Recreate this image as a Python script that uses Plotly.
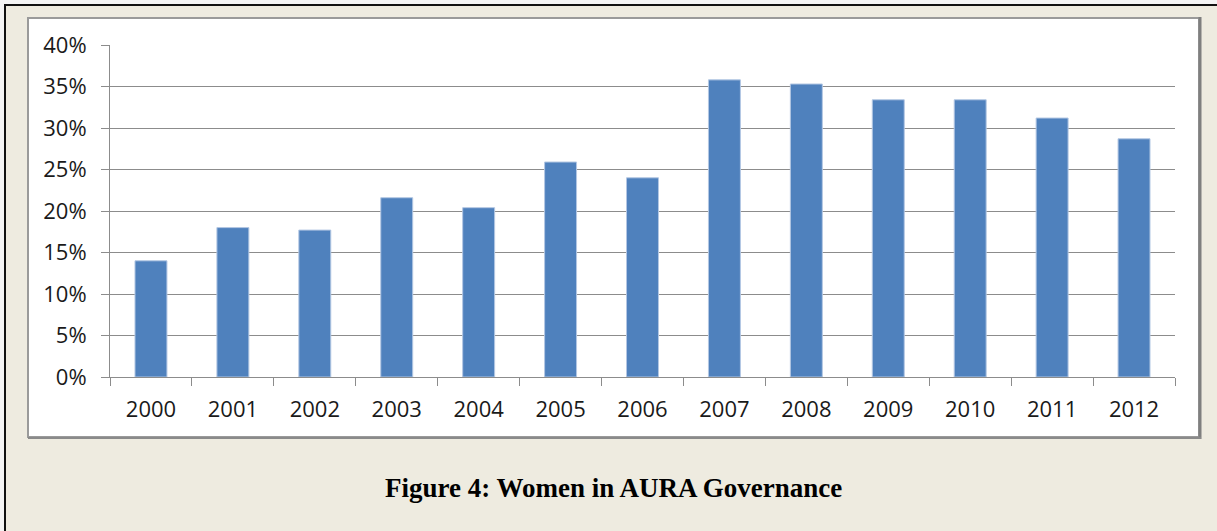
import plotly.graph_objects as go

years = ["2000", "2001", "2002", "2003", "2004", "2005", "2006",
         "2007", "2008", "2009", "2010", "2011", "2012"]
women_share = [0.140, 0.180, 0.177, 0.216, 0.204, 0.259, 0.240,
               0.358, 0.353, 0.334, 0.334, 0.312, 0.287]
y_ticks = [0.0, 0.05, 0.10, 0.15, 0.20, 0.25, 0.30, 0.35, 0.40]
caption = "Figure 4: Women in AURA Governance"

W, H = 1217, 531
PL, PR, PT, PB = 110, 1175, 45, 377  # plot area in pixels


def px(x):
    return (x - PL) / (PR - PL)


def py(y):
    return (PB - y) / (PB - PT)


fig = go.Figure()
fig.add_trace(go.Bar(
    x=years, y=women_share,
    marker=dict(color="#4F81BD", line=dict(color="#B3C7E3", width=1)),
))

shapes = [
    # light strip outside the black frame
    dict(type="rect", xref="paper", yref="paper",
         x0=px(0), x1=px(1300), y0=py(0), y1=py(600),
         line=dict(width=0), fillcolor="#F4F4F4", layer="below"),
    # outer black frame (only top/left visible)
    dict(type="rect", xref="paper", yref="paper",
         x0=px(5), x1=px(1260), y0=py(5), y1=py(560),
         line=dict(color="#111111", width=2), fillcolor="#EEEBE0", layer="below"),
    # white chart box
    dict(type="rect", xref="paper", yref="paper",
         x0=px(28), x1=px(1199), y0=py(18), y1=py(437),
         line=dict(color="#9a9a9a", width=2), fillcolor="white", layer="below"),
    # shadow right / bottom
    dict(type="line", xref="paper", yref="paper",
         x0=px(1200), x1=px(1200), y0=py(17), y1=py(439),
         line=dict(color="#7f7f7f", width=3), layer="below"),
    dict(type="line", xref="paper", yref="paper",
         x0=px(28), x1=px(1201), y0=py(438), y1=py(438),
         line=dict(color="#8a8a8a", width=2), layer="below"),
]

fig.update_layout(
    width=W, height=H,
    margin=dict(l=PL, r=W - PR, t=PT, b=H - PB, pad=0),
    paper_bgcolor="#EEEBE0",
    plot_bgcolor="white",
    showlegend=False,
    bargap=0.61,
    shapes=shapes,
    font=dict(family="Open Sans", size=22, color="#1a1a1a"),
    annotations=[dict(
        text="<b>" + caption + "</b>", xref="paper", yref="paper",
        x=px(613.5), y=py(488), xanchor="center", yanchor="middle",
        showarrow=False,
        font=dict(family="Liberation Serif", size=27, color="#000000"),
    )],
)
fig.update_xaxes(
    type="category", showgrid=False,
    showline=True, linecolor="#8c8c8c", linewidth=1,
    ticks="outside", tickson="boundaries", ticklen=8,
    tickcolor="#8c8c8c", tickwidth=1,
    ticklabelstandoff=13,
)
fig.update_yaxes(
    range=[0, 0.40], tickvals=y_ticks, tickformat=".0%",
    showgrid=True, gridcolor="#8c8c8c", gridwidth=1,
    showline=True, linecolor="#8c8c8c", linewidth=1,
    ticks="outside", ticklen=8, tickcolor="#8c8c8c", tickwidth=1,
    zeroline=False, ticklabelstandoff=10,
)

fig.write_html(
    "out.html",
    config={"displayModeBar": False},
    post_script="document.body.style.margin='0';document.body.style.overflow='hidden';",
)
